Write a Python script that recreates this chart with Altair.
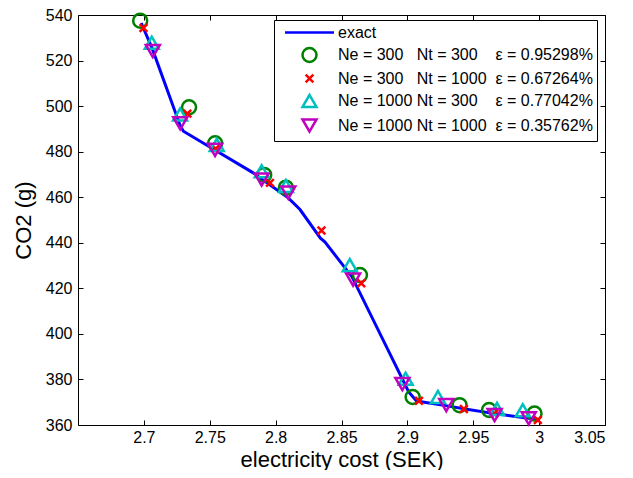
import altair as alt
import pandas as pd

NB = "\u00a0"
labels = [
    "exact",
    "Ne = 300" + NB * 3 + "Nt = 300" + NB * 4 + "ε = 0.95298%",
    "Ne = 300" + NB * 3 + "Nt = 1000" + NB * 2 + "ε = 0.67264%",
    "Ne = 1000" + NB + "Nt = 300" + NB * 4 + "ε = 0.77042%",
    "Ne = 1000" + NB + "Nt = 1000" + NB * 2 + "ε = 0.35762%",
]
colors = ["#0000FF", "#008000", "#FF0000", "#00BFBF", "#BF00BF"]
shapes = ["M-3.5,0L3.5,0", "circle", "M-0.55,-0.55L0.55,0.55M-0.55,0.55L0.55,-0.55",
          "triangle-up", "triangle-down"]

exact_x = [2.698, 2.7065, 2.7275, 2.7300, 2.7545, 2.7830, 2.7905, 2.8090, 2.8185, 2.8340,
           2.8375, 2.8580, 2.9010, 2.9070, 2.9290, 2.9440, 2.9660, 2.9920, 2.9990]
exact_y = [536.5, 525.0, 491.5, 489.0, 480.5, 470.7, 467.5, 460.0, 454.6, 442.0,
           440.3, 425.0, 374.5, 370.5, 368.5, 367.0, 365.0, 363.0, 362.5]

s1_x = [2.6972, 2.7343, 2.7541, 2.7913, 2.8078, 2.8640, 2.9040, 2.9396, 2.9620, 2.9965]
s1_y = [537.5, 499.5, 483.7, 469.8, 464.2, 425.8, 372.3, 368.7, 366.6, 365.0]
s2_x = [2.6997, 2.7330, 2.7545, 2.7957, 2.8348, 2.8650, 2.9088, 2.9429, 2.9660, 2.9990]
s2_y = [534.3, 496.7, 481.3, 466.3, 445.4, 422.2, 370.6, 367.0, 365.0, 362.2]
s3_x = [2.7060, 2.7275, 2.7553, 2.7894, 2.8078, 2.8563, 2.8987, 2.9232, 2.9680, 2.9876]
s3_y = [527.8, 496.3, 483.0, 471.4, 464.9, 430.2, 380.3, 372.3, 367.1, 366.5]
s4_x = [2.7068, 2.7276, 2.7540, 2.7894, 2.8096, 2.8588, 2.8962, 2.9295, 2.9662, 2.9921]
s4_y = [524.2, 492.5, 480.8, 467.8, 462.0, 423.8, 378.0, 368.7, 364.4, 362.9]

x_ticks = [2.7, 2.75, 2.8, 2.85, 2.9, 2.95, 3.0, 3.05]
y_ticks = [360, 380, 400, 420, 440, 460, 480, 500, 520, 540]

W, H = 527, 410

line_df = pd.DataFrame({"cost": exact_x, "co2": exact_y, "series": labels[0]})
pts = []
for lab, xs, ys in zip(labels[1:], [s1_x, s2_x, s3_x, s4_x], [s1_y, s2_y, s3_y, s4_y]):
    pts.append(pd.DataFrame({"cost": xs, "co2": ys, "series": lab}))
pts_df = pd.concat(pts, ignore_index=True)

xscale = alt.Scale(domain=[2.65, 3.05], nice=False, zero=False)
yscale = alt.Scale(domain=[360, 540], nice=False, zero=False)
xaxis = alt.Axis(values=x_ticks, format="~g", title="electricity cost (SEK)", grid=True,
                 gridDash=[5, H - 10], gridColor="black", gridOpacity=1, ticks=False,
                 domain=False, labelPadding=4, titlePadding=4)
yaxis = alt.Axis(values=y_ticks, format="d", title="CO2 (g)", grid=True,
                 gridDash=[5, W - 10], gridColor="black", gridOpacity=1, ticks=False,
                 domain=False, labelPadding=6, titlePadding=10)

legend = alt.Legend(title=None, orient="none", legendX=196, legendY=5, direction="vertical",
                    strokeColor="black", fillColor="white", padding=4, symbolSize=196,
                    symbolStrokeWidth=2.5, symbolOffset=23, labelOffset=20,
                    labelFontSize=16, labelLimit=0, rowPadding=1.5, cornerRadius=0)

color = alt.Color("series:N", scale=alt.Scale(domain=labels, range=colors), legend=legend)
shape = alt.Shape("series:N", scale=alt.Scale(domain=labels, range=shapes), legend=legend)

line = alt.Chart(line_df).mark_line(strokeWidth=3).encode(
    x=alt.X("cost:Q", scale=xscale, axis=xaxis),
    y=alt.Y("co2:Q", scale=yscale, axis=yaxis),
    color=color,
)
points = alt.Chart(pts_df).mark_point(filled=False, size=196, strokeWidth=2.5, opacity=1).encode(
    x=alt.X("cost:Q", scale=xscale, axis=xaxis),
    y=alt.Y("co2:Q", scale=yscale, axis=yaxis),
    color=color,
    shape=shape,
)

chart = alt.layer(line, points).properties(
    width=W, height=H,
    padding={"left": 70, "top": 7, "right": 20, "bottom": 45},
    autosize=alt.AutoSizeParams(type="none"),
).configure(font="Liberation Sans").configure_view(
    stroke="black", strokeWidth=1, fill="white"
).configure_axis(
    labelFontSize=16, titleFontSize=22, titleFontWeight="normal", labelColor="black",
    titleColor="black"
)

chart.save("out.html", embed_options={"renderer": "svg", "actions": False})
